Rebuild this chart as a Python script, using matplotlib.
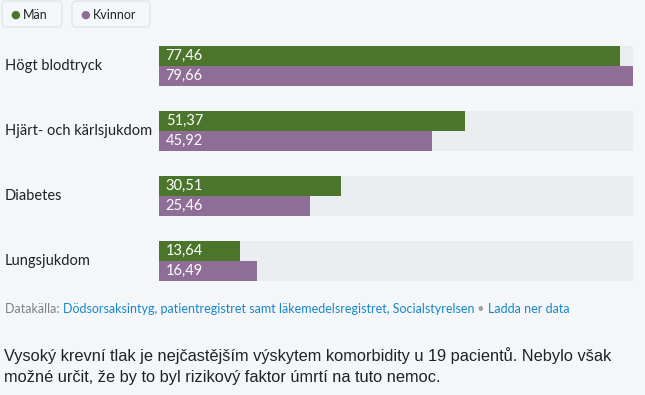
import matplotlib
matplotlib.use("Agg")
import matplotlib.pyplot as plt
from matplotlib.patches import FancyBboxPatch

categories = ["Högt blodtryck", "Hjärt- och kärlsjukdom", "Diabetes", "Lungsjukdom"]
man = [77.46, 51.37, 30.51, 13.64]
kvinnor = [79.66, 45.92, 25.46, 16.49]
series_names = ["Män", "Kvinnor"]

source_label = "Datakälla: "
source_text = "Dödsorsaksintyg, patientregistret samt läkemedelsregistret, Socialstyrelsen"
download_text = "Ladda ner data"
caption = ("Vysoký krevní tlak je nejčastějším výskytem komorbidity u 19 pacientů. Nebylo však\n"
           "možné určit, že by to byl rizikový faktor úmrtí na tuto nemoc.")

BG = "#f4f7fa"
GREEN = "#4a752b"
PURPLE = "#8e6e96"
TRACK = "#e9edf0"
W, H = 645, 395

plt.rcParams['font.family'] = ['Lato', 'DejaVu Sans']

fig = plt.figure(figsize=(W / 100, H / 100), dpi=100)
fig.patch.set_facecolor(BG)


def fx(px):
    return px / W


def fy(py):
    return 1 - py / H


# bar area in pixels: x 159..633, y 46..281
ax = fig.add_axes([fx(159), fy(281), fx(633 - 159), (281 - 46) / H])
ax.set_facecolor(BG)
h = 20 / 65
xmax = max(max(man), max(kvinnor))
ys = list(range(len(categories)))
ax.barh(ys, [xmax] * len(ys), height=2 * h, color=TRACK, align='center')
ax.barh([y - h / 2 for y in ys], man, height=h, color=GREEN)
ax.barh([y + h / 2 for y in ys], kvinnor, height=h, color=PURPLE)
for y, m, k in zip(ys, man, kvinnor):
    ax.text(xmax * 0.014, y - h / 2, f"{m:.2f}".replace(".", ","), color="white",
            fontsize=10.5, va='center', ha='left')
    ax.text(xmax * 0.014, y + h / 2, f"{k:.2f}".replace(".", ","), color="white",
            fontsize=10.5, va='center', ha='left')
ax.set_xlim(0, xmax)
ax.set_ylim(ys[-1] + h, ys[0] - h)
ax.axis('off')

for y, c in zip(ys, categories):
    ax.annotate(c, xy=(0, y), xycoords=('figure fraction', 'data'),
                xytext=(5, 0), textcoords='offset pixels',
                fontsize=10.5, color="#222222", va='center', ha='left')

# legend
legend_boxes = [(2, 62), (72, 150)]
for (x0, x1), name, col in zip(legend_boxes, series_names, [GREEN, PURPLE]):
    box = FancyBboxPatch((fx(x0), fy(27)), fx(x1 - x0), (27 - 1) / H,
                         boxstyle="round,pad=0,rounding_size=0.008",
                         transform=fig.transFigure, facecolor=BG,
                         edgecolor="#dfe4e8", linewidth=1)
    fig.patches.append(box)
    fig.text(fx(x0 + 13), fy(15), "●", color=col, fontsize=8,
             ha='center', va='center', family=['DejaVu Sans'])
    fig.text(fx(x0 + 21), fy(15), name, color="#222222", fontsize=9,
             ha='left', va='center')

# source line
fig.canvas.draw()
renderer = fig.canvas.get_renderer()
x = 5
for txt, col in [(source_label, "#808080"), (source_text, "#1a86c8"),
                 (" • ", "#9aa0a6"), (download_text, "#1a86c8")]:
    t = fig.text(fx(x), fy(309), txt, color=col, fontsize=9, ha='left', va='center')
    x += t.get_window_extent(renderer).width

fig.text(fx(4), fy(366), caption, color="#222222", fontsize=11.8, ha='left', va='center',
         family=['Liberation Sans'], linespacing=1.45)

fig.savefig("out.png", dpi=100, facecolor=BG)
